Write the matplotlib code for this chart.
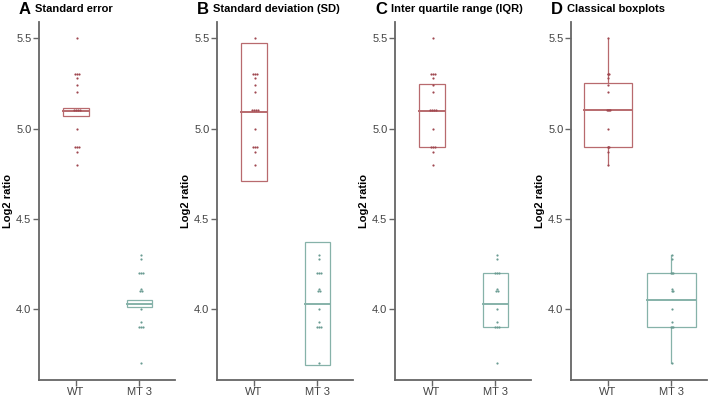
import numpy as np
import matplotlib.pyplot as plt
from matplotlib.patches import Rectangle

plt.rcParams['font.family'] = ['Liberation Sans', 'DejaVu Sans']

groups = ['WT', 'MT 3']
wt = [5.5, 5.3, 5.3, 5.3, 5.28, 5.24, 5.2, 5.1, 5.1, 5.1, 5.1, 5.0, 4.9, 4.9, 4.9, 4.87, 4.8]
mt3 = [4.3, 4.28, 4.2, 4.2, 4.2, 4.11, 4.1, 4.1, 4.0, 3.93, 3.9, 3.9, 3.9, 3.7]

# summary boxes: (low, middle, high) per group
se_box = [(5.072, 5.095, 5.114), (4.01, 4.03, 4.052)]
sd_box = [(4.71, 5.09, 5.475), (3.69, 4.03, 4.37)]
iqr_box = [(4.9, 5.095, 5.245), (3.9, 4.03, 4.2)]
classic_box = [(4.8, 4.9, 5.1, 5.25, 5.5), (3.7, 3.9, 4.05, 4.2, 4.3)]

letters = ['A', 'B', 'C', 'D']
titles = ['Standard error', 'Standard deviation (SD)', 'Inter quartile range (IQR)', 'Classical boxplots']

dot_col = ['#a04850', '#6a9c92']
box_col = ['#b86a6e', '#86b2a9']
spine_col = '#666666'

def offsets(vals):
    # spread repeated values sideways so they read as short dashes
    out = []
    seen = {}
    for v in vals:
        k = seen.get(v, 0)
        seen[v] = k + 1
        out.append(k)
    out = np.array(out, float)
    cnt = np.array([vals.count(v) for v in vals], float)
    return (out - (cnt - 1) / 2) * 0.03 + 0.02

fig = plt.figure(figsize=(7.09, 4.0), dpi=100)
lefts = [39, 217, 395, 571]
width = 136

for i in range(4):
    ax = fig.add_axes([lefts[i] / 709, 20.5 / 400, width / 709, 357.5 / 400])
    ax.set_xlim(-0.58, 1.56)
    ax.set_ylim(3.61, 5.59)
    for j, vals in enumerate([wt, mt3]):
        dx = offsets(vals)
        if i == 3:
            dx = dx * 0.5
        if i < 3:
            lo, mid, hi = [se_box, sd_box, iqr_box][i][j]
            w = 0.4
            ax.add_patch(Rectangle((j - w / 2, lo), w, hi - lo, fill=False,
                                   ec=box_col[j], lw=0.9, zorder=2))
            ax.plot([j - w / 2, j + w / 2], [mid, mid], color=box_col[j], lw=1.4, zorder=2)
        else:
            wl, q1, med, q3, wh = classic_box[j]
            w = 0.76
            ax.add_patch(Rectangle((j - w / 2, q1), w, q3 - q1, fill=False,
                                   ec=box_col[j], lw=0.9, zorder=2))
            ax.plot([j - w / 2, j + w / 2], [med, med], color=box_col[j], lw=1.4, zorder=2)
            ax.plot([j, j], [wl, q1], color=box_col[j], lw=0.9, zorder=2)
            ax.plot([j, j], [q3, wh], color=box_col[j], lw=0.9, zorder=2)
        ax.scatter(j + dx, vals, s=2.5, color=dot_col[j], lw=0, zorder=3)

    ax.set_xticks([0, 1])
    ax.set_xticklabels(groups)
    ax.set_yticks([4.0, 4.5, 5.0, 5.5])
    ax.set_yticklabels(['4.0', '4.5', '5.0', '5.5'])
    for s in ['top', 'right']:
        ax.spines[s].set_visible(False)
    for s in ['left', 'bottom']:
        ax.spines[s].set_color(spine_col)
        ax.spines[s].set_linewidth(1.3)
    ax.tick_params(colors=spine_col, labelcolor='#444444', labelsize=8, length=4, width=1, pad=1.5)
    ax.set_ylabel('Log2 ratio', fontsize=8, fontweight='bold', labelpad=2)
    x0 = lefts[i] - 20
    fig.text(x0 / 709, 1 - 9 / 400, letters[i], fontsize=12, fontweight='bold', va='center', ha='left')
    fig.text((x0 + 16) / 709, 1 - 9.5 / 400, titles[i], fontsize=8, fontweight='bold', va='center', ha='left')

fig.savefig('out.png', dpi=100)
